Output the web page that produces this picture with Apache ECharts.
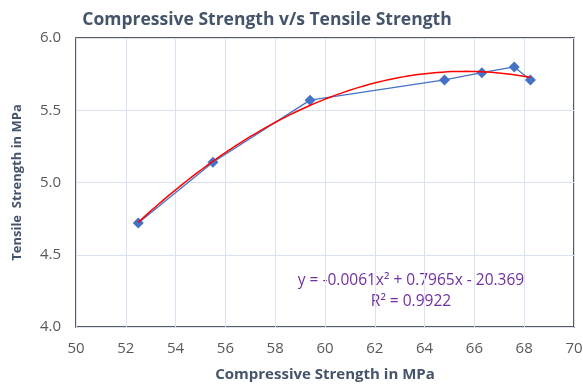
<!DOCTYPE html>
<html>
<head>
<meta charset="utf-8">
<script src="https://cdn.jsdelivr.net/npm/echarts@6/dist/echarts.min.js"></script>
<style>
  html, body { margin: 0; padding: 0; background: #fff; }
  #chart { width: 583px; height: 386px; }
</style>
</head>
<body>
<div id="chart"></div>
<script>
// Compressive strength (MPa) and matching tensile strength (MPa)
const compressive = [52.5, 55.5, 59.4, 64.8, 66.3, 67.6, 68.25];
const tensile     = [4.72, 5.14, 5.57, 5.71, 5.76, 5.80, 5.71];

// Axis ranges
const xTicks = { min: 50, max: 70, step: 2 };
const yTicks = { min: 4.0, max: 6.0, step: 0.5 };

// Labels
const titleText = 'Compressive Strength v/s Tensile Strength';
const xName = 'Compressive Strength in MPa';
const yName = 'Tensile  Strength in MPa';
const equationText = 'y = -0.0061x\u00B2 + 0.7965x - 20.369';
const r2Text = 'R\u00B2 = 0.9922';

// Least-squares quadratic trend fitted to the measured points
function fitQuadratic(xs, ys) {
  const n = xs.length;
  let s = [0, 0, 0, 0, 0], t = [0, 0, 0];
  for (let i = 0; i < n; i++) {
    let p = 1;
    for (let k = 0; k < 5; k++) { s[k] += p; if (k < 3) t[k] += p * ys[i]; p *= xs[i]; }
  }
  // Normal equations: [s0 s1 s2; s1 s2 s3; s2 s3 s4] [c0 c1 c2] = [t0 t1 t2]
  const A = [[s[0], s[1], s[2], t[0]], [s[1], s[2], s[3], t[1]], [s[2], s[3], s[4], t[2]]];
  for (let i = 0; i < 3; i++) {
    let piv = i;
    for (let r = i + 1; r < 3; r++) if (Math.abs(A[r][i]) > Math.abs(A[piv][i])) piv = r;
    [A[i], A[piv]] = [A[piv], A[i]];
    for (let r = 0; r < 3; r++) {
      if (r === i) continue;
      const f = A[r][i] / A[i][i];
      for (let c = i; c < 4; c++) A[r][c] -= f * A[i][c];
    }
  }
  return [A[0][3] / A[0][0], A[1][3] / A[1][1], A[2][3] / A[2][2]];
}

const coef = fitQuadratic(compressive, tensile);
const xLo = Math.min(...compressive), xHi = Math.max(...compressive);
const trend = [];
for (let i = 0; i <= 80; i++) {
  const x = xLo + (xHi - xLo) * i / 80;
  trend.push([x, coef[0] + coef[1] * x + coef[2] * x * x]);
}

const points = compressive.map((x, i) => [x, tensile[i]]);
const FONT = '"Open Sans", "Noto Sans", sans-serif';

const chart = echarts.init(document.getElementById('chart'), null, { renderer: 'canvas' });
chart.setOption({
  animation: false,
  backgroundColor: '#ffffff',
  textStyle: { fontFamily: FONT },
  graphic: [
    {
      type: 'text', x: 267, y: 20,
      style: { text: titleText, fill: '#44546A', font: 'bold 17.5px ' + FONT,
        align: 'center', verticalAlign: 'middle' }
    },
    {
      type: 'text', x: 411, y: 281,
      style: { text: equationText, fill: '#7030A0', font: '15.5px ' + FONT,
        align: 'center', verticalAlign: 'middle' }
    },
    {
      type: 'text', x: 411, y: 302,
      style: { text: r2Text, fill: '#7030A0', font: '15.5px ' + FONT,
        align: 'center', verticalAlign: 'middle' }
    }
  ],
  grid: {
    left: 76, right: 9, top: 38, bottom: 59,
    outerBoundsMode: 'none',
    show: true, borderColor: '#262626', borderWidth: 1.5, backgroundColor: 'transparent'
  },
  xAxis: {
    type: 'value', min: xTicks.min, max: xTicks.max, interval: xTicks.step,
    name: xName, nameLocation: 'middle', nameGap: 40,
    nameTextStyle: { fontFamily: FONT, fontSize: 15, fontWeight: 'bold', color: '#44546A' },
    axisLine: { show: false }, axisTick: { show: false },
    axisLabel: { fontFamily: FONT, fontSize: 15, color: '#595959', margin: 14 },
    splitLine: { show: true, lineStyle: { color: '#D9E1F2', width: 1 } }
  },
  yAxis: {
    type: 'value', min: yTicks.min, max: yTicks.max, interval: yTicks.step,
    name: yName, nameLocation: 'middle', nameGap: 52, nameRotate: 90,
    nameTextStyle: { fontFamily: FONT, fontSize: 13, fontWeight: 'bold', color: '#44546A' },
    axisLine: { show: false }, axisTick: { show: false },
    axisLabel: { fontFamily: FONT, fontSize: 15, color: '#595959', margin: 15,
      formatter: v => v.toFixed(1) },
    splitLine: { show: true, lineStyle: { color: '#D9E1F2', width: 1 } }
  },
  series: [
    {
      type: 'line', data: points,
      symbol: 'diamond', symbolSize: 11,
      lineStyle: { color: '#4472C4', width: 1.25 },
      itemStyle: { color: '#4472C4' },
      z: 2
    },
    {
      type: 'line', data: trend, symbol: 'none', smooth: false,
      lineStyle: { color: '#FF0000', width: 1.5 },
      z: 3
    }
  ]
});
</script>
</body>
</html>
